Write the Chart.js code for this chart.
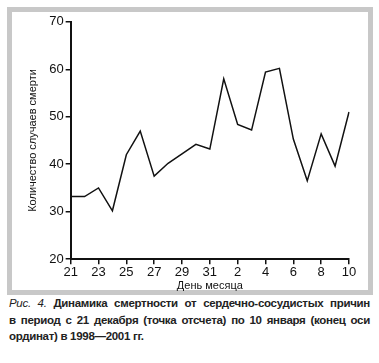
<!DOCTYPE html>
<html>
<head>
<meta charset="utf-8">
<script src="https://cdn.jsdelivr.net/npm/chart.js@4"></script>
<style>
  html, body { margin: 0; padding: 0; background: #fff; }
  .frame {
    position: absolute; left: 7px; top: 7px;
    width: 356px; height: 278px;
    border: 5px solid #c8c8c8;
    background: #fff;
  }
  #chart { position: absolute; left: 0; top: 0; }
  .caption {
    position: absolute; left: 9px; top: 295px; width: 361px;
    font-family: "Liberation Sans", sans-serif; font-weight: bold;
    font-size: 11.5px; letter-spacing: -0.3px; line-height: 16.5px; text-align: justify;
    color: #222;
  }
  .caption i { font-weight: normal; }
</style>
</head>
<body>
<div class="frame"><canvas id="chart" width="356" height="281"></canvas></div>
<div class="caption"><i>Рис. 4.</i> Динамика смертности от сердечно-сосудистых причин в&nbsp;период с 21 декабря (точка отсчета) по 10 января (конец оси ординат) в 1998—2001 гг.</div>
<script>
const days = [21, 22, 23, 24, 25, 26, 27, 28, 29, 30, 31, 1, 2, 3, 4, 5, 6, 7, 8, 9, 10];
const deaths = [33.2, 33.2, 35, 30.2, 42, 47, 37.5, 40.2, 42.2, 44.2, 43.2, 58, 48.4, 47.2, 59.4, 60.2, 45.3, 36.5, 46.4, 39.6, 51];
const yTitle = "Количество случаев смерти";
const xTitle = "День месяца";

const tickFont = {family: "Liberation Sans", size: 13};

new Chart(document.getElementById("chart"), {
  type: "line",
  data: {
    labels: days,
    datasets: [{
      data: deaths,
      borderColor: "#111",
      borderWidth: 1.5,
      pointRadius: 0,
      tension: 0,
      fill: false
    }]
  },
  options: {
    responsive: false,
    animation: false,
    layout: {padding: {top: 2, right: 19, left: 14, bottom: 0}},
    plugins: {legend: {display: false}, tooltip: {enabled: false}},
    scales: {
      x: {
        border: {display: true, color: "#111", width: 2},
        grid: {
          drawOnChartArea: false,
          drawTicks: true,
          tickLength: 5,
          lineWidth: 1.5,
          color: (c) => c.index % 2 === 0 ? "#111" : "rgba(0,0,0,0)"
        },
        ticks: {
          autoSkip: false, maxRotation: 0, color: "#111", font: tickFont, padding: 0,
          callback: function (v, i) { return i % 2 === 0 ? this.getLabelForValue(v) : ""; }
        },
        title: {display: true, text: xTitle, color: "#111", font: {family: "Liberation Sans", size: 11}, padding: {top: 0, bottom: 0}}
      },
      y: {
        min: 20, max: 70,
        border: {display: true, color: "#111", width: 2},
        grid: {drawOnChartArea: false, drawTicks: true, tickLength: 5, lineWidth: 1.5, color: "#111"},
        ticks: {stepSize: 10, color: "#111", font: tickFont, padding: 2},
        title: {display: true, text: yTitle, color: "#111", font: {family: "Liberation Sans", size: 11}, padding: {top: 0, bottom: 8}}
      }
    }
  }
});
</script>
</body>
</html>
